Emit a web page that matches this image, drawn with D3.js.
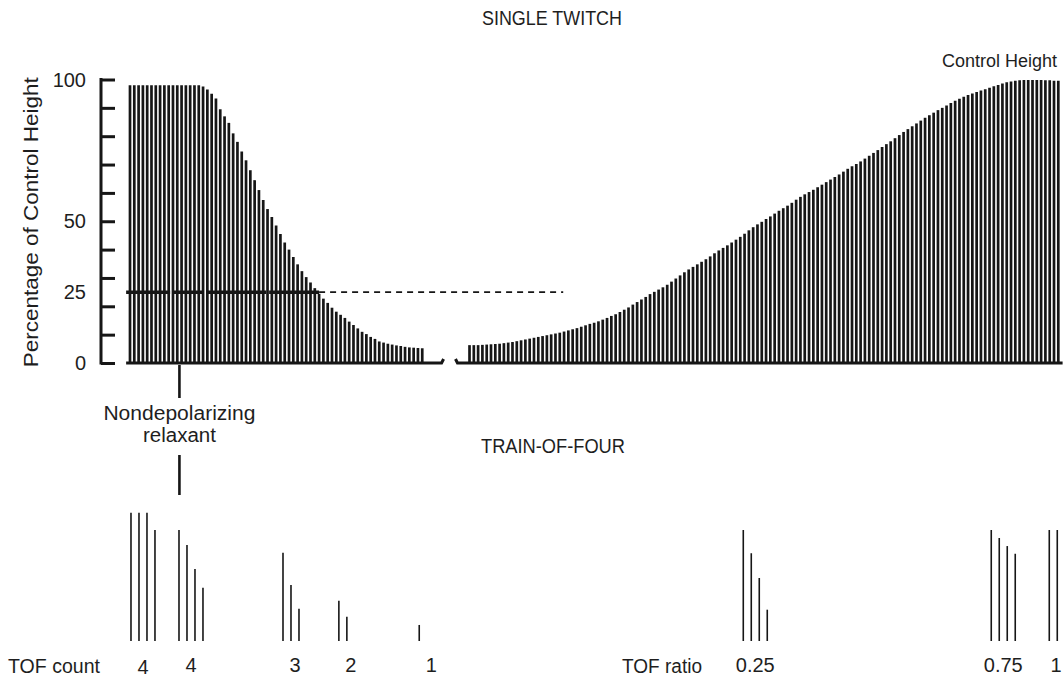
<!DOCTYPE html>
<html><head><meta charset="utf-8">
<script src="https://cdn.jsdelivr.net/npm/d3@7"></script>
<style>
html,body{margin:0;padding:0;background:#fff;}
svg{display:block;font-family:"Liberation Sans",Arial,Helvetica,sans-serif;}
</style></head>
<body>
<svg id="c" width="1063" height="681"></svg>
<script>
// ---- data ----
const yTickValues = [0,10,20,30,40,50,60,70,80,90,100];
const yTickLabels = [[0,"0"],[25,"25"],[50,"50"],[100,"100"]];
const leftStart = 0;
const twitchLeft = [98,98,98,98,98,98,98,98,98,98,98,98,98,98,98,98,98,
 97.5,96.5,95,93.3,89.5,87,84.7,81,78,74.6,71.5,68,64.5,61,57.5,54.3,51.5,48.5,45.5,42.5,40,37.4,34.8,32.4,30.3,28.4,26.4,24.4,22.7,21.2,19.5,18.1,17,15.9,14.6,13.4,12.2,11,10.2,9.2,8.5,7.6,7.2,6.8,6.5,6.2,6,5.7,5.5,5.4,5.3,5.2];
const rightStart = 79;
const twitchRight = [6.3,6.3,6.3,6.4,6.5,6.6,6.7,6.8,7,7.2,7.4,7.7,8,8.3,8.6,8.9,9.2,9.5,9.8,10.1,10.4,10.7,11.1,11.5,11.9,12.3,12.8,13.3,13.8,14.2,14.7,15.3,15.9,16.6,17.2,18,18.8,19.6,20.6,21.5,22.4,23.3,24.3,25.1,25.9,26.7,27.6,28.7,29.8,30.9,32,33,33.9,34.8,35.7,36.6,37.6,38.7,39.7,40.6,41.5,42.5,43.5,44.5,45.6,46.8,47.9,48.9,49.8,50.8,51.7,52.7,53.7,54.6,55.5,56.5,57.6,58.6,59.5,60.3,61.1,62,62.9,63.8,64.7,65.6,66.5,67.5,68.5,69.4,70.2,71.1,72.1,73.1,74.1,75.1,76.2,77.2,78.2,79.3,80.4,81.5,82.5,83.5,84.5,85.5,86.5,87.4,88.3,89.2,90,90.8,91.7,92.5,93.2,93.9,94.5,95.1,95.6,96.1,96.6,97.1,97.6,98.1,98.6,99,99.3,99.6,99.7,99.8,99.8,99.8,99.8,99.8,99.7,99.7,99.6,99.6];
const thresholdLevel = 25;
const tofStarts = [0.23, 11.4, 35.6, 48.6, 67.3, 142.7, 200.4, 213.9];
const tofHeights = [[100,100,100,86.5],[86.5,74.8,56.1,41.5],[68.8,43.6,25.2],[31.4,18.9],[12.5],[86.5,68.4,49.1,24.4],[86.5,80.3,74,68],[86.5,86.5,86.5,86.5]];
const tofLabels = ["4","4","3","2","1","0.25","0.75","1"];
const relaxantAt = 11.5;

// ---- scales ----
const svg = d3.select("#c");
const W = 1063;
const x = d3.scaleLinear().domain([0,216]).range([130,1058.3]);
const y = d3.scaleLinear().domain([0,100]).range([363,79.5]);
const yt = d3.scaleLinear().domain([0,100]).range([641,512.7]);
const tofStep = 1.86;
const ink = "#161616";
const txt = "#1e1e1e";
const fs = 20;

// axis
const axisG = svg.append("g").attr("transform","translate(101,0)");
const yAxis = d3.axisRight(y).tickValues(yTickValues).tickSize(14).tickFormat("");
axisG.call(yAxis);
axisG.select(".domain").attr("stroke",ink).attr("stroke-width",3).attr("d",`M0,${y(100)-1.5}V${y(0)+1.5}`);
axisG.selectAll(".tick line").attr("stroke",ink).attr("stroke-width",3);
svg.append("g").selectAll("text").data(yTickLabels).join("text")
  .attr("x",86).attr("y",d=>y(d[0])+7).attr("text-anchor","end")
  .attr("font-size",fs).attr("fill",txt).text(d=>d[1]);

svg.append("text").attr("transform",`translate(38,${y(50)+1}) rotate(-90)`)
  .attr("text-anchor","middle").attr("font-size",fs).attr("fill",txt)
  .attr("textLength",290).attr("lengthAdjust","spacingAndGlyphs")
  .text("Percentage of Control Height");

// twitch bars
const bars = twitchLeft.map((v,i)=>({i:leftStart+i,v}))
  .concat(twitchRight.map((v,i)=>({i:rightStart+i,v})));
svg.append("g").selectAll("line").data(bars).join("line")
  .attr("x1",d=>x(d.i)).attr("x2",d=>x(d.i))
  .attr("y1",y(0)).attr("y2",d=>y(d.v))
  .attr("stroke",ink).attr("stroke-width",2.7);

// baselines with break marks
const gapL = x(72.5), gapR = x(75.5);
svg.append("path").attr("d",`M${x(-0.9)},${y(0)}H${gapL}l2,-4`)
  .attr("fill","none").attr("stroke",ink).attr("stroke-width",3);
svg.append("path").attr("d",`M${gapR+1},${y(0)-4}l2,4H${x(217)}`)
  .attr("fill","none").attr("stroke",ink).attr("stroke-width",3);

// threshold line
svg.append("line").attr("x1",x(-0.9)).attr("x2",x(44)).attr("y1",y(thresholdLevel)).attr("y2",y(thresholdLevel))
  .attr("stroke",ink).attr("stroke-width",3.5).attr("stroke-dasharray","44,3,30,3,60,3,80,3");
svg.append("line").attr("x1",x(44)).attr("x2",x(100.8)).attr("y1",y(thresholdLevel)).attr("y2",y(thresholdLevel))
  .attr("stroke",ink).attr("stroke-width",1.7).attr("stroke-dasharray","6,5");

// relaxant marker
svg.append("line").attr("x1",x(relaxantAt)).attr("x2",x(relaxantAt)).attr("y1",365).attr("y2",398)
  .attr("stroke",ink).attr("stroke-width",2.6);
svg.append("line").attr("x1",x(relaxantAt)).attr("x2",x(relaxantAt)).attr("y1",455).attr("y2",495)
  .attr("stroke",ink).attr("stroke-width",2.6);
svg.append("text").attr("x",x(relaxantAt)).attr("y",420).attr("text-anchor","middle")
  .attr("font-size",fs).attr("fill",txt).attr("textLength",152).attr("lengthAdjust","spacingAndGlyphs").text("Nondepolarizing");
svg.append("text").attr("x",x(relaxantAt)).attr("y",442).attr("text-anchor","middle")
  .attr("font-size",fs).attr("fill",txt).attr("textLength",73).attr("lengthAdjust","spacingAndGlyphs").text("relaxant");

// titles
svg.append("text").attr("x",552).attr("y",25).attr("text-anchor","middle").attr("font-size",fs).attr("fill",txt)
  .attr("textLength",140).attr("lengthAdjust","spacingAndGlyphs").text("SINGLE TWITCH");
svg.append("text").attr("x",1057).attr("y",67).attr("text-anchor","end").attr("font-size",18).attr("fill",txt)
  .text("Control Height");
svg.append("text").attr("x",553).attr("y",453).attr("text-anchor","middle").attr("font-size",fs).attr("fill",txt)
  .attr("textLength",144).attr("lengthAdjust","spacingAndGlyphs").text("TRAIN-OF-FOUR");

// TOF bars
const tofBars = [];
tofStarts.forEach((s,g)=>tofHeights[g].forEach((h,k)=>tofBars.push({g,k,xi:s+k*tofStep,h})));
svg.append("g").selectAll("line").data(tofBars).join("line")
  .attr("x1",d=>x(d.xi)).attr("x2",d=>x(d.xi))
  .attr("y1",yt(0)).attr("y2",d=>yt(d.h))
  .attr("stroke",ink).attr("stroke-width",1.6);

// TOF labels
svg.append("g").selectAll("text").data(tofLabels).join("text")
  .attr("x",(d,g)=>Math.min(W-7, x(tofStarts[g]+1.5*tofStep))).attr("y",(d,g)=>g===0?674:672)
  .attr("text-anchor","middle").attr("font-size",fs).attr("fill",txt).text(d=>d);
svg.append("text").attr("x",100).attr("y",673).attr("text-anchor","end").attr("font-size",fs).attr("fill",txt)
  .attr("textLength",92).attr("lengthAdjust","spacingAndGlyphs").text("TOF count");
svg.append("text").attr("x",702).attr("y",673).attr("text-anchor","end").attr("font-size",fs).attr("fill",txt)
  .attr("textLength",80).attr("lengthAdjust","spacingAndGlyphs").text("TOF ratio");
</script>
</body></html>
